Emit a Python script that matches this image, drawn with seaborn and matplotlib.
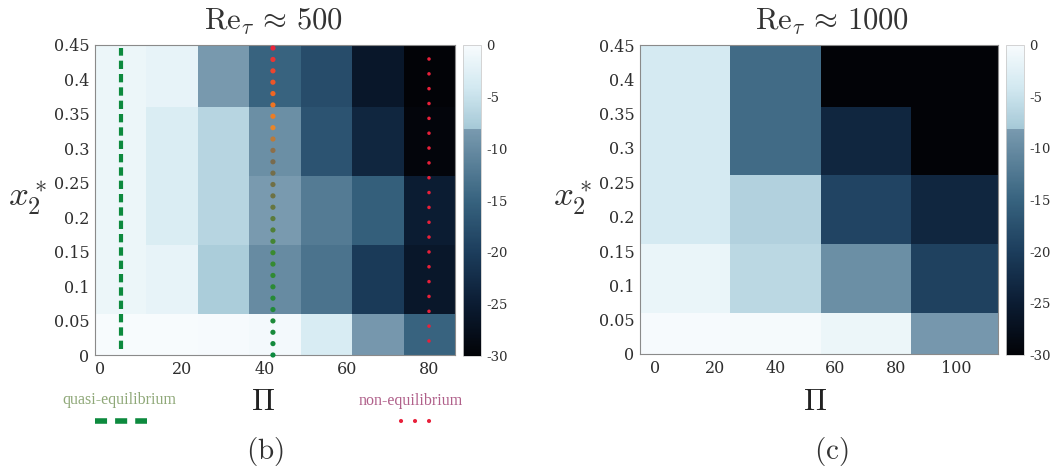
import numpy as np
import pandas as pd
import matplotlib
matplotlib.use("Agg")
import matplotlib.pyplot as plt
from matplotlib.colors import LinearSegmentedColormap, to_rgb
from matplotlib.lines import Line2D
import seaborn as sns

# ---- data -------------------------------------------------------------
x2_rows = [0.01, 0.11, 0.21, 0.31, 0.41]          # cell centres, wall-normal position

pi_500 = [5, 17.5, 30, 42.5, 55, 67.5, 80]         # pressure-gradient parameter, Re_tau ~ 500
# rows: bottom -> top (x2 = 0.01 ... 0.41), columns follow pi_500
dr_500 = [
    [0.0, -0.1, -0.2, -0.5, -3.5, -8.5, -15.0],
    [-1.2, -1.8, -7.6, -10.0, -13.0, -20.5, -26.0],
    [-1.2, -3.2, -6.5, -8.1, -12.0, -15.5, -25.0],
    [-1.2, -3.2, -6.5, -9.5, -17.0, -23.5, -29.5],
    [-1.2, -1.8, -8.3, -15.0, -18.0, -26.0, -30.0],
]

pi_1000 = [10, 40, 70, 100]                        # Re_tau ~ 1000
dr_1000 = [
    [-0.2, -0.3, -1.2, -8.5],
    [-1.5, -6.2, -9.6, -19.5],
    [-3.8, -7.0, -19.0, -23.5],
    [-3.8, -14.0, -23.5, -30.0],
    [-3.8, -14.0, -30.0, -30.0],
]

# regime markers (Pi values) for Re_tau ~ 500
pi_quasi = 5
pi_transition = 42
pi_noneq = 80

cbar_ticks = [0, -5, -10, -15, -20, -25, -30]
x_ticks_500 = [0, 20, 40, 60, 80]
x_ticks_1000 = [0, 20, 40, 60, 80, 100]
y_ticks = [0, 0.05, 0.1, 0.15, 0.2, 0.25, 0.3, 0.35, 0.4, 0.45]

# ---- style ------------------------------------------------------------
sns.set_theme(style="white")
plt.rcParams["mathtext.fontset"] = "cm"
plt.rcParams["axes.unicode_minus"] = False
TICK_FONT = dict(family="DejaVu Serif", size=11.5, color="#2e2e2e")
CB_FONT = dict(family="DejaVu Serif", size=9.5, color="#2e2e2e")

# light blues down to about -8, then a jump to steel blue fading to black
cmap = LinearSegmentedColormap.from_list(
    "dr",
    [
        (0.0, "#020307"),
        (1 / 6, "#0b1c33"),
        (2 / 6, "#1c3d5c"),
        (0.5, "#37637f"),
        (0.733, "#7a9bb0"),
        (0.7331, "#a6c9d7"),
        (0.867, "#d3e9f1"),
        (1.0, "#f7fbfd"),
    ],
)

fig = plt.figure(figsize=(10.58, 4.76), dpi=100)
W, H = 1058, 476


def frac(x0, y0, x1, y1):
    return [x0 / W, 1 - y1 / H, (x1 - x0) / W, (y1 - y0) / H]


def cell_pos(values, centres):
    c = np.asarray(centres, float)
    w = c[1] - c[0]
    return (np.asarray(values, float) - (c[0] - w / 2)) / w


def draw_panel(ax, cax, pis, rows, xticks, xlim):
    df = pd.DataFrame(rows, index=x2_rows, columns=pis)
    sns.heatmap(df, ax=ax, cmap=cmap, vmin=-30, vmax=0, cbar_ax=cax,
                xticklabels=False, yticklabels=False)
    ax.set_xlim(*cell_pos(xlim, pis))
    ax.set_ylim(*cell_pos([0, 0.45], x2_rows))
    ax.set_xticks(cell_pos(xticks, pis))
    ax.set_xticklabels([f"{t:g}" for t in xticks], **TICK_FONT)
    ax.set_yticks(cell_pos(y_ticks, x2_rows))
    ax.set_yticklabels([f"{t:g}" for t in y_ticks], **TICK_FONT)
    ax.tick_params(length=0, pad=4)
    for s in ax.spines.values():
        s.set_visible(True)
        s.set_color("#8a8a8a")
        s.set_linewidth(0.8)
    ax.set_xlabel("")
    ax.set_ylabel("")
    cb = ax.collections[0].colorbar
    cb.set_ticks(cbar_ticks)
    cb.set_ticklabels([f"{t:d}" for t in cbar_ticks], **CB_FONT)
    cb.ax.tick_params(length=0, pad=4)
    cb.outline.set_edgecolor("#cccccc")
    cb.outline.set_linewidth(0.6)


ax1 = fig.add_axes(frac(95, 45, 455, 355))
cax1 = fig.add_axes(frac(463, 45, 481, 356))
draw_panel(ax1, cax1, pi_500, dr_500, x_ticks_500, [-1.25, 86.25])

ax2 = fig.add_axes(frac(640, 45, 998, 354))
cax2 = fig.add_axes(frac(1006, 45, 1024, 355))
draw_panel(ax2, cax2, pi_1000, dr_1000, x_ticks_1000, [-5, 114])

# ---- regime lines on the Re_tau ~ 500 map -----------------------------
GREEN = "#0d8a3e"
RED = "#e8203a"
yq = cell_pos([0.008, 0.445], x2_rows)
xq = cell_pos([pi_quasi, pi_quasi], pi_500)
ax1.plot(xq, yq, color=GREEN, lw=3.0, linestyle=(0, (2.0, 1.2)), solid_capstyle="round")

yn = cell_pos([0.02, 0.445], x2_rows)
xn = cell_pos([pi_noneq, pi_noneq], pi_500)
ax1.plot(xn, yn, color=RED, lw=2.6, linestyle=(0, (0.01, 4.1)), dash_capstyle="round")

# transition line: dots shading from green (near the wall) to red (outer region)
grad_y = [0.0, 0.15, 0.22, 0.29, 0.33, 0.37, 0.45]
grad_c = ["#0d8a3e", "#3a8a30", "#6a7440", "#7a6a50", "#e8862a", "#f07020", "#e8203a"]
ydots = np.arange(0.0, 0.452, 0.0165)
rgb = np.array([to_rgb(c) for c in grad_c])
cols = np.stack([np.interp(ydots, grad_y, rgb[:, k]) for k in range(3)], axis=1)
ax1.scatter(cell_pos(np.full_like(ydots, pi_transition), pi_500), cell_pos(ydots, x2_rows),
            s=14, c=cols, linewidths=0, zorder=5, clip_on=False)

# ---- titles and labels --------------------------------------------------
fig.text(273 / W, 1 - 22 / H, r"$\mathrm{Re}_{\tau}\,\approx\,500$", ha="center", va="center",
         fontsize=22, color="#333333")
fig.text(832 / W, 1 - 22 / H, r"$\mathrm{Re}_{\tau}\,\approx\,1000$", ha="center", va="center",
         fontsize=22, color="#333333")
for xc in (27, 572):
    fig.text(xc / W, 1 - 198 / H, r"$x_2^*$", ha="center", va="center", fontsize=25, color="#333333")
for xc in (263, 815):
    fig.text(xc / W, 1 - 402 / H, r"$\Pi$", ha="center", va="center", fontsize=22, color="#222222")
fig.text(265 / W, 1 - 452 / H, r"$\mathrm{(b)}$", ha="center", va="center", fontsize=21, color="#333333")
fig.text(831 / W, 1 - 452 / H, r"$\mathrm{(c)}$", ha="center", va="center", fontsize=21, color="#333333")

# regime legend
fig.text(119 / W, 1 - 400 / H, "quasi-equilibrium", ha="center", va="center",
         family="Liberation Serif", fontsize=11.5, color="#8fa878")
fig.text(411 / W, 1 - 401 / H, "non-equilibrium", ha="center", va="center",
         family="Liberation Serif", fontsize=11.5, color="#b0608a")
fig.add_artist(Line2D([95 / W, 147 / W], [1 - 421 / H] * 2, color=GREEN, lw=4.0,
                      linestyle=(0, (2.17, 1.45))))
fig.add_artist(Line2D([401 / W, 431 / W], [1 - 421 / H] * 2, color=RED, lw=3.0,
                      linestyle=(0, (0.01, 3.35)), dash_capstyle="round"))

fig.savefig("out.png", dpi=100)
